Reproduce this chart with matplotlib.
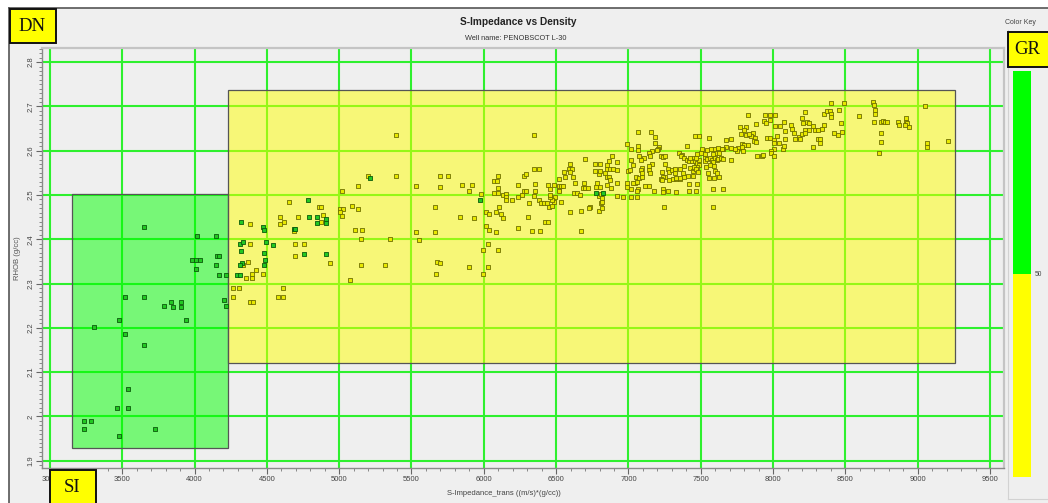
import matplotlib
matplotlib.use("Agg")
import matplotlib.pyplot as plt
from matplotlib.patches import Rectangle
from matplotlib.lines import Line2D
from matplotlib.ticker import MultipleLocator

# ---------------- data ----------------
title = "S-Impedance vs Density"
subtitle = "Well name: PENOBSCOT L-30"
xlabel = "S-Impedance_trans ((m/s)*(g/cc))"
ylabel = "RHOB (g/cc)"

x_ticks = [3000, 3500, 4000, 4500, 5000, 5500, 6000, 6500, 7000, 7500, 8000, 8500, 9000, 9500]
y_ticks = [1.9, 2.0, 2.1, 2.2, 2.3, 2.4, 2.5, 2.6, 2.7, 2.8]

# zone boxes: (imp_min, imp_max, rhob_min, rhob_max)
zone_low_gr = (3150, 4230, 1.928, 2.502)
zone_high_gr = (4230, 9260, 2.12, 2.738)

gr_min, gr_cutoff, gr_max = 0, 50, 100

# points with GR below cutoff (green)
imp_low = [3652, 4019, 4146, 3982, 4012, 4040, 4153, 4169, 4146, 4012, 4171, 4215, 3521, 3652, 3835, 3904, 3791,
           3851, 3904, 4203, 4215, 3477, 3943, 3304, 3521, 3650, 3542, 3466, 3542, 3233, 3281, 3233, 3724, 3477,
           5215, 4786, 4789, 4848, 4909, 4909, 4848, 4319, 4471, 4478, 4687, 4697, 4314, 4335, 4494, 4540,
           4319, 4482, 4754, 4909, 4487, 4328, 4314, 4478, 4291, 4314, 5974, 6776, 6822]
rhob_low = [2.428, 2.407, 2.407, 2.353, 2.353, 2.353, 2.362, 2.362, 2.342, 2.333, 2.320, 2.320, 2.270, 2.270, 2.258,
            2.258, 2.249, 2.246, 2.246, 2.263, 2.249, 2.217, 2.217, 2.201, 2.186, 2.161, 2.062, 2.018, 2.018, 1.990,
            1.990, 1.972, 1.972, 1.955,
            2.539, 2.489, 2.451, 2.451, 2.445, 2.436, 2.437, 2.440, 2.428, 2.420, 2.423, 2.423, 2.390, 2.393, 2.393,
            2.386, 2.373, 2.370, 2.367, 2.367, 2.353, 2.347, 2.342, 2.342, 2.320, 2.320, 2.489, 2.504, 2.504]

# points with GR above cutoff (yellow), grouped by impedance range
imp_high_1 = [5395, 6347, 5197, 5395, 5130, 5019, 4653, 4862, 4876, 5005, 5028, 5091, 5130, 5005, 5019, 4591, 4715,
              4888, 4876, 4616, 4591, 4385, 4687, 5108, 5156, 5533, 5660, 5149, 5349, 5554, 4385, 4694, 4754, 4694,
              4337, 4367, 4936, 5149, 5315, 5676, 5699, 5900, 6031, 4425, 4395, 4471, 4355, 4395, 5075, 5672,
              5997, 4263, 4305, 4614, 4263, 4383, 4402, 4575, 4614]
rhob_high_1 = [2.636, 2.636, 2.544, 2.544, 2.520, 2.509, 2.485, 2.473, 2.473, 2.469, 2.469, 2.475, 2.469, 2.462,
               2.452, 2.451, 2.451, 2.454, 2.440, 2.440, 2.434, 2.434, 2.418, 2.420, 2.420, 2.417, 2.417, 2.400,
               2.400, 2.398, 2.390, 2.390, 2.390, 2.363, 2.342, 2.349, 2.347, 2.342, 2.342, 2.348, 2.347, 2.338,
               2.338, 2.331, 2.321, 2.321, 2.312, 2.312, 2.309, 2.321, 2.321, 2.291, 2.291, 2.291, 2.269, 2.259,
               2.259, 2.269, 2.269]

imp_high_2 = [5533, 5695, 5752, 5695, 5660, 5851, 5916, 5895, 5978, 6100, 6071, 6093, 6098, 6071, 6098, 6131, 6151,
              6151, 6151, 6197, 6236, 6262, 6280, 6292, 6236, 6280, 6292, 6347, 6382, 6352, 6352, 6347, 6310, 6382,
              6393, 6416, 6435, 6013, 6034, 6084, 6117, 6131, 6103, 5838, 5930, 6013, 6034, 6084, 6239, 6308,
              6331, 6387, 6423, 6446, 6029, 5994, 6100]
rhob_high_2 = [2.520, 2.544, 2.544, 2.519, 2.473, 2.522, 2.522, 2.509, 2.503, 2.544, 2.531, 2.531, 2.516, 2.504,
               2.504, 2.500, 2.503, 2.495, 2.488, 2.488, 2.495, 2.500, 2.509, 2.509, 2.523, 2.544, 2.547, 2.558,
               2.558, 2.524, 2.509, 2.498, 2.483, 2.489, 2.483, 2.481, 2.481, 2.461, 2.457, 2.461, 2.457, 2.449,
               2.473, 2.451, 2.449, 2.431, 2.421, 2.417, 2.425, 2.451, 2.419, 2.419, 2.440, 2.440, 2.389, 2.376,
               2.376]

imp_high_3 = [6444, 6458, 6485, 6522, 6536, 6550, 6518, 6557, 6594, 6589, 6610, 6596, 6561, 6614, 6631, 6621, 6647,
              6665, 6690, 6684, 6702, 6723, 6732, 6727, 6700, 6769, 6771, 6794, 6776, 6785, 6794, 6799, 6520, 6483,
              6492, 6474, 6460, 6532, 6594, 6674, 6674, 6449, 6469, 6458, 6520, 6804, 6804, 6810, 6815, 6808,
              6817, 6804]
rhob_high_3 = [2.523, 2.513, 2.523, 2.520, 2.520, 2.520, 2.511, 2.551, 2.569, 2.559, 2.559, 2.551, 2.540, 2.540,
               2.527, 2.504, 2.504, 2.501, 2.526, 2.516, 2.516, 2.516, 2.473, 2.470, 2.582, 2.569, 2.554, 2.548,
               2.519, 2.526, 2.498, 2.464, 2.536, 2.484, 2.495, 2.489, 2.495, 2.484, 2.461, 2.464, 2.418, 2.473,
               2.475, 2.500, 2.509, 2.554, 2.519, 2.502, 2.494, 2.483, 2.471, 2.569]

imp_high_4 = [6884, 6868, 6919, 6850, 6854, 6873, 6896, 6919, 6836, 6850, 6864, 6873, 6854, 6877, 6919, 6919, 6960,
              7016, 7057, 6815, 6988, 7066, 7020, 7064, 7064, 7076, 7108, 7016, 7089, 7029, 7094, 6997, 7011, 7089,
              7094, 7052, 7076, 7094, 7043, 7062, 6993, 7029, 6988, 7066, 7016, 7057, 7112, 7145, 7177]
rhob_high_4 = [2.589, 2.576, 2.575, 2.568, 2.559, 2.558, 2.559, 2.556, 2.550, 2.541, 2.541, 2.534, 2.522, 2.516,
               2.528, 2.498, 2.495, 2.496, 2.496, 2.485, 2.616, 2.643, 2.603, 2.611, 2.601, 2.589, 2.583, 2.579,
               2.579, 2.568, 2.562, 2.555, 2.556, 2.556, 2.550, 2.541, 2.538, 2.540, 2.528, 2.530, 2.528, 2.528,
               2.519, 2.514, 2.514, 2.510, 2.521, 2.521, 2.510]

imp_high_5 = [7154, 7186, 7186, 7209, 7205, 7195, 7163, 7145, 7149, 7228, 7242, 7255, 7161, 7145, 7140, 7149, 7255,
              7232, 7271, 7278, 7255, 7242, 7223, 7232, 7281, 7301, 7306, 7331, 7359, 7237, 7237, 7276, 7329, 7246]
rhob_high_5 = [2.643, 2.632, 2.617, 2.609, 2.604, 2.601, 2.599, 2.596, 2.588, 2.588, 2.586, 2.589, 2.570, 2.565,
               2.556, 2.549, 2.570, 2.553, 2.559, 2.551, 2.541, 2.540, 2.536, 2.535, 2.535, 2.556, 2.537, 2.537,
               2.537, 2.513, 2.506, 2.509, 2.506, 2.472]

imp_high_6 = [7324, 7357, 7387, 7426, 7447, 7451, 7467, 7322, 7380, 7329, 7357, 7387, 7414, 7449, 7348, 7368, 7364,
              7403, 7387, 7408, 7417, 7440, 7428, 7454, 7463, 7474, 7490, 7486, 7472, 7451, 7465, 7479, 7461, 7490,
              7419, 7472, 7419, 7465]
rhob_high_6 = [2.559, 2.558, 2.565, 2.562, 2.555, 2.562, 2.567, 2.549, 2.549, 2.539, 2.538, 2.540, 2.544, 2.544,
               2.595, 2.590, 2.587, 2.611, 2.584, 2.579, 2.576, 2.576, 2.583, 2.583, 2.576, 2.573, 2.580, 2.567,
               2.564, 2.564, 2.558, 2.553, 2.633, 2.633, 2.525, 2.525, 2.509, 2.509]

imp_high_7 = [7532, 7532, 7541, 7564, 7576, 7585, 7599, 7610, 7622, 7638, 7652, 7707, 7537, 7564, 7592, 7599, 7610,
              7550, 7560, 7594, 7624, 7583, 7656, 7583, 7592, 7603, 7587, 7571, 7541, 7532, 7507, 7500, 7474, 7467,
              7557, 7707, 7675, 7707, 7675, 7656, 7645, 7622, 7629, 7758, 7753, 7735]
rhob_high_7 = [2.584, 2.577, 2.581, 2.583, 2.579, 2.575, 2.583, 2.579, 2.581, 2.583, 2.581, 2.579, 2.564, 2.567,
               2.565, 2.555, 2.550, 2.549, 2.539, 2.539, 2.540, 2.513, 2.513, 2.472, 2.604, 2.594, 2.592, 2.604,
               2.601, 2.592, 2.604, 2.594, 2.592, 2.584, 2.628, 2.607, 2.624, 2.626, 2.609, 2.605, 2.603, 2.607,
               2.596, 2.607, 2.599, 2.603]

imp_high_8 = [7774, 7811, 7799, 7781, 7811, 7788, 7802, 7825, 7786, 7795, 7829, 7875, 7871, 7882, 7864, 7845, 7832,
              7885, 7945, 7979, 8014, 7940, 7949, 7979, 8016, 8051, 8074, 7958, 7981, 8007, 8007, 8007, 8044, 8067,
              8076, 7984, 7988, 8007, 7924, 7929, 7889, 8025, 8081, 8085]
rhob_high_8 = [2.654, 2.654, 2.646, 2.638, 2.635, 2.616, 2.614, 2.614, 2.609, 2.599, 2.680, 2.629, 2.622, 2.619,
               2.640, 2.633, 2.638, 2.660, 2.680, 2.680, 2.680, 2.667, 2.662, 2.669, 2.656, 2.656, 2.664, 2.628,
               2.628, 2.624, 2.617, 2.605, 2.617, 2.605, 2.611, 2.599, 2.594, 2.588, 2.587, 2.590, 2.587, 2.633,
               2.644, 2.626]

imp_high_9 = [8127, 8134, 8147, 8200, 8205, 8233, 8251, 8219, 8219, 8251, 8290, 8313, 8336, 8279, 8182, 8152, 8198,
              8221, 8313, 8325, 8325, 8274, 8353, 8350, 8371, 8394, 8399, 8404, 8399, 8187]
rhob_high_9 = [2.659, 2.650, 2.641, 2.673, 2.662, 2.666, 2.662, 2.687, 2.647, 2.647, 2.647, 2.647, 2.649, 2.656,
               2.632, 2.626, 2.637, 2.639, 2.626, 2.626, 2.618, 2.609, 2.659, 2.683, 2.690, 2.690, 2.683, 2.707,
               2.677, 2.627]

imp_high_10 = [8419, 8449, 8475, 8459, 8468, 8491, 8592, 8694, 8698, 8708, 8703, 8698, 8747, 8763, 8777, 8786, 8747,
               8744, 8735, 8864, 8871, 8920, 8920, 8929, 8938, 8913, 9053, 9062, 9062, 9212]
rhob_high_10 = [2.641, 2.635, 2.643, 2.693, 2.663, 2.707, 2.678, 2.709, 2.704, 2.693, 2.684, 2.664, 2.664, 2.668,
                2.664, 2.664, 2.641, 2.619, 2.596, 2.664, 2.659, 2.674, 2.666, 2.663, 2.654, 2.659, 2.701, 2.618,
                2.609, 2.623]

imp_high = (imp_high_1 + imp_high_2 + imp_high_3 + imp_high_4 + imp_high_5 + imp_high_6 + imp_high_7 +
            imp_high_8 + imp_high_9 + imp_high_10)
rhob_high = (rhob_high_1 + rhob_high_2 + rhob_high_3 + rhob_high_4 + rhob_high_5 + rhob_high_6 + rhob_high_7 +
             rhob_high_8 + rhob_high_9 + rhob_high_10)

# ---------------- figure ----------------
W, H = 1048, 503
SANS = ["Liberation Sans", "DejaVu Sans"]
SERIF = ["Liberation Serif", "DejaVu Serif"]
plt.rcParams["font.family"] = SANS

fig = plt.figure(figsize=(W / 100, H / 100), dpi=100)
fig.patch.set_facecolor("#efefef")


def fx(px):
    return px / W


def fy(py):
    return 1 - py / H


# white margin + outer frame
fig.add_artist(Rectangle((0, fy(7.5)), 1, 7.5 / H, transform=fig.transFigure, facecolor="white",
                         edgecolor="none", zorder=0))
fig.add_artist(Rectangle((0, 0), fx(9), 1, transform=fig.transFigure, facecolor="white",
                         edgecolor="none", zorder=0))
fig.add_artist(Line2D([fx(9), 1], [fy(7.5), fy(7.5)], transform=fig.transFigure, color="#555555", lw=1.2))
fig.add_artist(Line2D([fx(9), fx(9)], [fy(7.5), 0], transform=fig.transFigure, color="#555555", lw=1.2))
# colour key panel border
fig.add_artist(Line2D([fx(1008), fx(1008)], [fy(30), fy(499)], transform=fig.transFigure, color="#d2d2d2", lw=0.8))
fig.add_artist(Line2D([fx(1008), 1], [fy(499), fy(499)], transform=fig.transFigure, color="#d2d2d2", lw=0.8))

ax = fig.add_axes([fx(42), fy(468), (1004 - 42) / W, (468 - 48) / H])
ax.set_facecolor("#efefef")
ax.set_xlim(2945, 9597)
ax.set_ylim(1.8835, 2.832)

ax.set_axisbelow(True)
ax.xaxis.set_major_locator(MultipleLocator(500))
ax.xaxis.set_minor_locator(MultipleLocator(100))
ax.yaxis.set_major_locator(MultipleLocator(0.1))
ax.yaxis.set_minor_locator(MultipleLocator(0.01))
ax.set_xticks(x_ticks)
ax.set_yticks(y_ticks)
ax.set_xticklabels([str(v) for v in x_ticks])
ax.set_yticklabels([f"{v:g}" for v in y_ticks], rotation=90, va="center")
ax.grid(True, which="major", color="#2ef02e", lw=1.5)

ax.tick_params(which="major", length=4, width=0.8, color="#666666", labelsize=5.5,
               labelcolor="#444444", pad=2)
ax.tick_params(which="minor", length=2, width=0.6, color="#777777")
ax.tick_params(axis="y", pad=1.5)
for side in ["left", "bottom"]:
    ax.spines[side].set_color("#8a8a8a")
    ax.spines[side].set_linewidth(1.0)
for side in ["top", "right"]:
    ax.spines[side].set_color("#c4c4c4")
    ax.spines[side].set_linewidth(1.6)

# zone boxes
for (x0, x1, y0, y1), col in [(zone_low_gr, (0.0, 1.0, 0.0, 0.5)), (zone_high_gr, (1.0, 1.0, 0.0, 0.5))]:
    ax.add_patch(Rectangle((x0, y0), x1 - x0, y1 - y0, facecolor=col, edgecolor="#555555",
                           lw=0.9, zorder=1))

ax.scatter(imp_high, rhob_high, marker="s", s=8, facecolor="#e8e800", edgecolor="#6e6e00",
           linewidths=0.6, zorder=3)
ax.scatter(imp_low, rhob_low, marker="s", s=8, facecolor="#22c822", edgecolor="#0b5a0b",
           linewidths=0.6, zorder=4)

ax.set_xlabel(xlabel, fontsize=5.5, color="#444444")
ax.xaxis.set_label_coords((504 - 42) / 962, (468 - 490) / 420)
ax.set_ylabel(ylabel, fontsize=5.5, color="#555555")
ax.yaxis.set_label_coords((21 - 42) / 962, 0.5)

# titles
fig.text(fx(518), fy(22), title, ha="center", va="center", fontsize=7.3, fontweight="bold", color="#222222")
fig.text(fx(516), fy(39), subtitle, ha="center", va="center", fontsize=5.3, color="#333333")

# colour key
fig.text(fx(1020), fy(22), "Color Key", ha="center", va="center", fontsize=5, color="#444444")
kax = fig.add_axes([fx(1013), fy(477), (1031 - 1013) / W, (477 - 71) / H])
kax.bar([0], [gr_cutoff - gr_min], bottom=gr_min, width=1, color="#00ff00")
kax.bar([0], [gr_max - gr_cutoff], bottom=gr_cutoff, width=1, color="#ffff00")
kax.set_xlim(-0.5, 0.5)
kax.set_ylim(gr_max, gr_min)
kax.axis("off")
kax.text(1.18, gr_cutoff, str(gr_cutoff), transform=kax.get_yaxis_transform(), ha="left", va="center",
         fontsize=4.8, color="#444444")


# labelled boxes
def tag(x0, y0, x1, y1, label, cx, cy):
    fig.add_artist(Rectangle((fx(x0), fy(y1)), (x1 - x0) / W, (y1 - y0) / H, transform=fig.transFigure,
                             facecolor="#ffff00", edgecolor="#111111", lw=1.4, zorder=10))
    fig.text(fx(cx), fy(cy), label, ha="center", va="center", fontsize=13.5, family=SERIF,
             color="#111111", zorder=11)


tag(9.5, 9.5, 56, 43, "DN", 32.5, 26.5)
tag(49.5, 470, 96, 506, "SI", 72.5, 487.5)
tag(1007.5, 32.5, 1052, 67, "GR", 1027.5, 49.5)

fig.savefig("out.png", dpi=100, facecolor=fig.get_facecolor())
